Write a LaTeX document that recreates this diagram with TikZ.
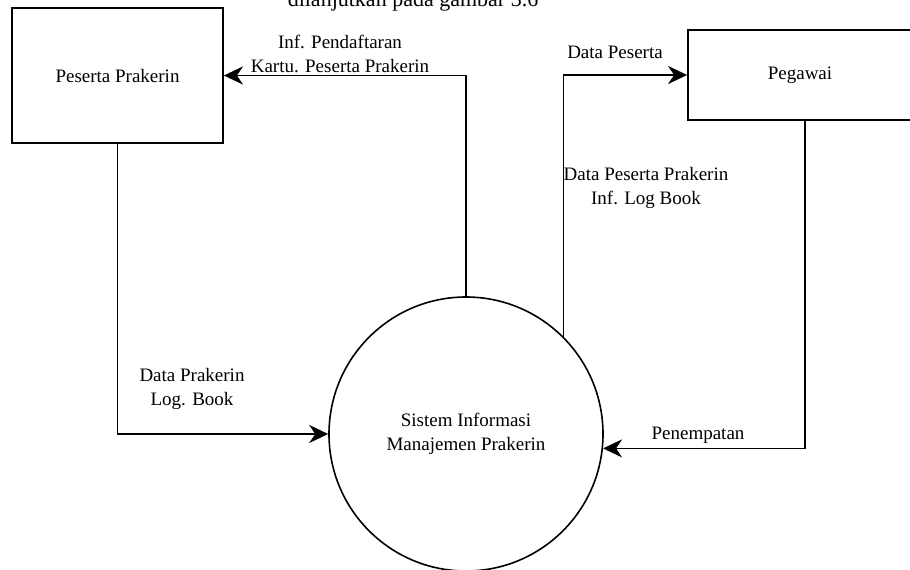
\documentclass[tikz,border=0pt]{standalone}
\usepackage{fontspec}
\setmainfont{Liberation Serif}
\usetikzlibrary{arrows.meta,shapes.geometric}
\begin{document}
\begin{tikzpicture}[x=1pt,y=-1pt,
  entity/.style={draw,line width=1.8pt,rectangle,inner sep=0pt,font=\dfdfont},
  process/.style={draw,line width=1.6pt,circle,inner sep=0pt,minimum size=274pt,align=center,font=\dfdfont},
  flow/.style={line width=1.8pt,-{Stealth[length=19pt,width=18pt,inset=6pt]}},
  lbl/.style={inner sep=0pt,align=center,font=\dfdfont}]
\newcommand{\dfdfont}{\fontsize{19}{24}\selectfont}
\useasboundingbox (0,0) rectangle (910,570);
\clip (0,0) rectangle (910,570);

% caption line running into the top edge
\node[anchor=base,inner sep=0pt,font=\fontsize{22}{26}\selectfont] (cap) at (413,6) {dilanjutkan pada gambar 3.6};

% external entities and the process
\node[entity,minimum width=211pt,minimum height=135pt] (pp) at (117.5,75.5) {Peserta Prakerin};
\node[entity,minimum width=224pt,minimum height=90pt] (peg) at (800,75) {Pegawai};
\node[process] (sys) at (466,434) {Sistem Informasi\\Manajemen Prakerin};

% data flows
\draw[flow] (sys.north) |- (pp.east);
\draw[flow] (sys.45) |- (peg.west);
\draw[flow] (pp.south) |- (sys.west);
\draw[flow] ([xshift=5pt]peg.south) |- (sys.-6);

% flow labels
\node[lbl] (l1) at (340,54) {Inf. Pendaftaran\\Kartu. Peserta Prakerin};
\node[lbl,anchor=base] (l2) at (615,58) {Data Peserta};
\node[lbl] (l3) at (646,188) {Data Peserta Prakerin\\Inf. Log Book};
\node[lbl] (l4) at (192,389) {Data Prakerin\\Log. Book};
\node[lbl,anchor=base] (l5) at (698,439) {Penempatan};
\end{tikzpicture}
\end{document}
